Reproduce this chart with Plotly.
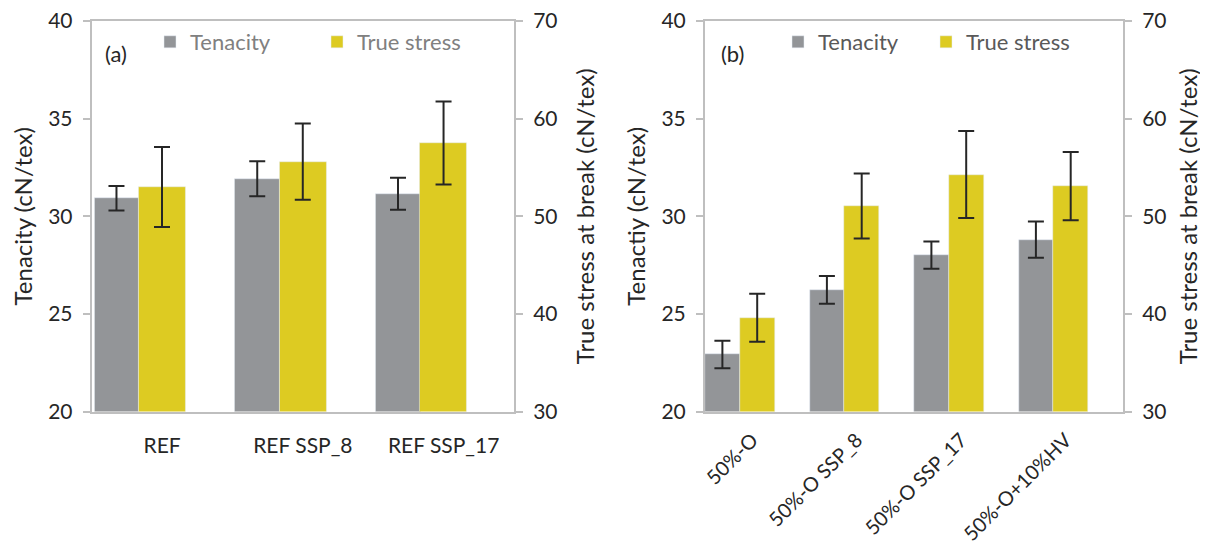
import plotly.graph_objects as go

# ---- data ----
cats_a = ["REF", "REF SSP_8", "REF SSP_17"]
ten_a = [30.92, 31.92, 31.15]
ten_a_err = [0.63, 0.9, 0.82]
ts_a = [53.0, 55.6, 57.5]
ts_a_err = [4.1, 3.9, 4.25]

cats_b = ["50%-O", "50%-O SSP_8", "50%-O SSP_17", "50%-O+10%HV"]
ten_b = [22.92, 26.23, 28.01, 28.8]
ten_b_err = [0.7, 0.71, 0.7, 0.93]
ts_b = [39.6, 51.06, 54.27, 53.08]
ts_b_err = [2.46, 3.33, 4.46, 3.5]

GRAY = "#939598"
YELLOW = "#DDCB22"
AXC = "#BFBFBF"
TXT = "#262626"
FONT = "Lato"
FS_TICK = 21
FS_TITLE = 24
FS_LEG = 22

# page body has an 8px margin, so the figure is drawn 8px in from the window edges
OFF = 8
W, H = 1208 - OFF, 544 - OFF
def px(x):
    return (x - OFF) / W
def py(y):
    return 1 - (y - OFF) / H

fig = go.Figure()

err = dict(type="data", color="#262626", thickness=2, width=8)

# panel (a)
fig.add_trace(go.Bar(x=cats_a, y=ten_a, name="Tenacity", marker_color=GRAY,
                     offset=-0.482, width=0.316, xaxis="x", yaxis="y",
                     error_y=dict(err, array=ten_a_err), legend="legend"))
fig.add_trace(go.Bar(x=cats_a, y=ts_a, name="True stress", marker_color=YELLOW,
                     offset=-0.167, width=0.333, xaxis="x", yaxis="y2",
                     error_y=dict(err, array=ts_a_err), legend="legend"))
# panel (b)
fig.add_trace(go.Bar(x=cats_b, y=ten_b, name="Tenacity", marker_color=GRAY,
                     offset=-0.5, width=0.333, xaxis="x2", yaxis="y3",
                     error_y=dict(err, array=ten_b_err), legend="legend2"))
fig.add_trace(go.Bar(x=cats_b, y=ts_b, name="True stress", marker_color=YELLOW,
                     offset=-0.167, width=0.333, xaxis="x2", yaxis="y4",
                     error_y=dict(err, array=ts_b_err), legend="legend2"))

ydom = [py(411.5), py(21)]
xdom_a = [px(91.7), px(514)]
xdom_b = [px(705), px(1123)]

def xax(dom, n, angle=0, standoff=14, shift=0, size=FS_TICK):
    return dict(domain=dom, range=[-0.5, n - 0.5], showline=True, linecolor=AXC,
                linewidth=2, mirror=True, ticks="", showgrid=False,
                tickfont=dict(family=FONT, size=size, color=TXT), tickangle=angle,
                ticklabelstandoff=standoff, ticklabelshift=shift,
                ticklabeloverflow="allow", automargin=False)

def yax(rng, title, side="left", overlay=None, anchor="x", standoff=8):
    d = dict(domain=ydom, range=rng, dtick=5 if rng[0] == 20 else 10, showline=True,
             linecolor=AXC, linewidth=2, ticks="outside", ticklen=7, tickwidth=2,
             tickcolor=AXC, showgrid=False, zeroline=False, side=side, anchor=anchor,
             tickfont=dict(family=FONT, size=FS_TICK, color=TXT),
             title=dict(text=title, font=dict(family=FONT, size=FS_TITLE, color=TXT),
                        standoff=standoff),
             ticklabelstandoff=6, ticklabeloverflow="allow", automargin=False)
    if overlay:
        d["overlaying"] = overlay
    return d

fig.update_layout(
    width=W, height=H, margin=dict(l=0, r=0, t=0, b=0),
    paper_bgcolor="white", plot_bgcolor="white",
    barmode="overlay", bargap=0,
    xaxis=xax(xdom_a, 3, standoff=14),
    xaxis2=xax(xdom_b, 4, angle=-45, standoff=7, shift=-5, size=20),
    yaxis=yax([20, 40], "Tenacity (cN/tex)", anchor="x", standoff=11),
    yaxis2=yax([30, 70], "True stress at break (cN/tex)", side="right", overlay="y",
               anchor="x", standoff=21),
    yaxis3=yax([20, 40], "Tenactiy (cN/tex)", anchor="x2", standoff=9),
    yaxis4=yax([30, 70], "True stress at break (cN/tex)", side="right", overlay="y3",
               anchor="x2", standoff=15),
    legend=dict(orientation="h", x=px(150), xanchor="left", y=py(42), yanchor="middle",
                font=dict(family=FONT, size=FS_LEG, color="#808080"), entrywidth=122,
                bgcolor="rgba(0,0,0,0)", borderwidth=0),
    legend2=dict(orientation="h", x=px(778), xanchor="left", y=py(42), yanchor="middle",
                 font=dict(family=FONT, size=FS_LEG, color="#595959"), entrywidth=103,
                 bgcolor="rgba(0,0,0,0)", borderwidth=0),
    annotations=[
        dict(text="(a)", x=px(116), y=py(53), xref="paper", yref="paper", showarrow=False,
             font=dict(family=FONT, size=FS_LEG, color=TXT), xanchor="center", yanchor="middle"),
        dict(text="(b)", x=px(732), y=py(53), xref="paper", yref="paper", showarrow=False,
             font=dict(family=FONT, size=FS_LEG, color=TXT), xanchor="center", yanchor="middle"),
    ],
)

fig.write_html("out.html")
